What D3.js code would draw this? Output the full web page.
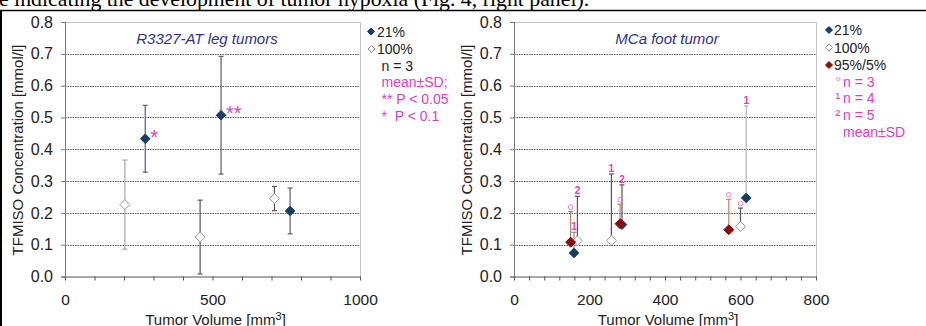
<!DOCTYPE html>
<html>
<head>
<meta charset="utf-8">
<script src="https://cdn.jsdelivr.net/npm/d3@7"></script>
<style>
  body { margin: 0; background: #fff; }
  svg { display: block; font-family: Arial, "Liberation Sans", sans-serif; }
</style>
</head>
<body>
<div class="figure"></div>
<script>
const svgSize = { width: 926, height: 326 };

// ---- data ----
const yTicks = [0, 0.1, 0.2, 0.3, 0.4, 0.5, 0.6, 0.7, 0.8];

// left panel: R3327-AT leg tumors, mean ± SD
const legVol21   = [272, 529, 763];
const legMean21  = [0.433, 0.507, 0.206];
const legSD21    = [0.105, 0.185, 0.072];
const legStars   = ['*', '**', ''];
const legVol100  = [203, 458, 710];
const legMean100 = [0.226, 0.124, 0.245];
const legSD100   = [0.140, 0.116, 0.038];

// right panel: MCa foot tumor, mean + SD (upper bar only)
const footVol21   = [159, 286, 615];
const footMean21  = [0.074, 0.163, 0.247];
const footSD21    = [0.065, 0.125, 0.289];
const footN21     = [4, 5, 4];
const footVol100  = [168, 258, 600];
const footMean100 = [0.112, 0.113, 0.157];
const footSD100   = [0.140, 0.209, 0.058];
const footN100    = [5, 4, 3];
const footVol95   = [150, 281, 569];
const footMean95  = [0.108, 0.166, 0.147];
const footSD95    = [0.096, 0.061, 0.096];
const footN95     = [3, 3, 3];

const navy = '#143d6b';
const darkRed = '#8a0c0c';
const magenta = '#e23cc2';
const pink = '#ef7fd6';

const svg = d3.select('.figure')
    .append('svg')
    .attr('width', svgSize.width)
    .attr('height', svgSize.height)
;

// page text + table border cut off at the top (as in the source scan)
svg.append('text')
    .attr('x', -1)
    .attr('y', 6)
    .attr('font-family', '"Liberation Serif", "Times New Roman", serif')
    .attr('font-size', 21.8)
    .attr('fill', '#000')
    .text('e indicating the development of tumor hypoxia (Fig. 4, right panel).')
;
svg.append('line')
    .attr('x1', 0).attr('x2', svgSize.width)
    .attr('y1', 10.5).attr('y2', 10.5)
    .attr('stroke', '#000').attr('stroke-width', 1.5)
;
svg.append('line')
    .attr('x1', 1).attr('x2', 1)
    .attr('y1', 10).attr('y2', svgSize.height)
    .attr('stroke', '#000').attr('stroke-width', 2)
;

const diamond = (g, x, y, r, fill, stroke) => g.append('path')
    .attr('d', `M${x},${y - r}L${x + r},${y}L${x},${y + r}L${x - r},${y}Z`)
    .attr('fill', fill)
    .attr('stroke', stroke)
    .attr('stroke-width', 1)
;

const panel = (cfg) => {
    const g = svg.append('g');
    const x = d3.scaleLinear().domain([0, cfg.xMax]).range([cfg.left, cfg.right]);
    const y = d3.scaleLinear().domain([0, 0.8]).range([276.5, 22]);

    // grid
    g.selectAll('.grid')
        .data(yTicks.filter(v => v > 0 && v < 0.8))
        .enter()
        .append('line')
        .attr('x1', cfg.left).attr('x2', cfg.right)
        .attr('y1', d => Math.round(y(d)) + 0.5).attr('y2', d => Math.round(y(d)) + 0.5)
        .attr('stroke', '#555')
        .attr('stroke-dasharray', '1.5,1')
    ;
    // frame top/right
    g.append('path')
        .attr('d', `M${cfg.left},22.5H${cfg.right + 0.5}V276.5`)
        .attr('fill', 'none')
        .attr('stroke', '#c4c4c4')
    ;

    const yAxis = g.append('g')
        .attr('transform', `translate(${cfg.left},0)`)
        .call(d3.axisLeft(y).tickValues(yTicks).tickFormat(d3.format('.1f')).tickSize(4).tickPadding(8))
    ;
    yAxis.select('.domain').attr('stroke', '#777');
    yAxis.selectAll('.tick line').attr('stroke', '#777');
    yAxis.selectAll('text').attr('font-size', 16).attr('fill', '#222');

    const xAxis = g.append('g')
        .attr('transform', 'translate(0,276.5)')
        .call(d3.axisBottom(x).tickValues(d3.range(0, cfg.xMax + 1, cfg.minor)).tickFormat('').tickSize(4).tickSizeOuter(0))
    ;
    xAxis.select('.domain').attr('stroke', '#555');
    xAxis.selectAll('.tick line').attr('stroke', '#555');
    const xLabels = g.append('g')
        .attr('transform', 'translate(0,276.5)')
        .call(d3.axisBottom(x).tickValues(cfg.major).tickFormat(d3.format('d')).tickSize(0).tickPadding(17))
    ;
    xLabels.select('.domain').remove();
    xLabels.selectAll('text').attr('font-size', 15.5).attr('fill', '#222');

    g.append('text')
        .attr('x', (cfg.left + cfg.right) / 2 + 3)
        .attr('y', 324.5)
        .attr('text-anchor', 'middle')
        .attr('font-size', 15)
        .attr('fill', '#222')
        .html('Tumor Volume [mm<tspan font-size="11" dy="-5">3</tspan><tspan dy="5">]</tspan>')
    ;
    g.append('text')
        .attr('transform', `translate(${cfg.left - 47},150) rotate(-90)`)
        .attr('dy', '0.35em')
        .attr('text-anchor', 'middle')
        .attr('font-size', 15)
        .attr('fill', '#222')
        .text('TFMISO Concentration [mmol/l]')
    ;
    g.append('text')
        .attr('x', cfg.titleX)
        .attr('y', 44)
        .attr('text-anchor', 'middle')
        .attr('font-size', 15)
        .attr('font-style', 'italic')
        .attr('fill', '#2e3192')
        .text(cfg.title)
    ;
    return { g, x, y };
};

// ---- left panel ----
const L = panel({ left: 65, right: 360, xMax: 1000, minor: 100, major: [0, 500, 1000], title: 'R3327-AT leg tumors', titleX: 207 });

const errBar = (p, xv, m, sd, color, both) => {
    const cx = p.x(xv);
    const top = p.y(m + sd);
    const bot = both ? p.y(m - sd) : p.y(m);
    p.g.append('line').attr('x1', cx).attr('x2', cx).attr('y1', top).attr('y2', bot)
        .attr('stroke', color).attr('stroke-width', 1.2);
    p.g.append('line').attr('x1', cx - 2.5).attr('x2', cx + 2.5).attr('y1', top).attr('y2', top)
        .attr('stroke', color).attr('stroke-width', 1.2);
    if (both) {
        p.g.append('line').attr('x1', cx - 2.5).attr('x2', cx + 2.5).attr('y1', bot).attr('y2', bot)
            .attr('stroke', color).attr('stroke-width', 1.2);
    }
};

const legBar100 = ['#a8a8a8', '#555', '#555'];
legVol100.forEach((v, i) => errBar(L, v, legMean100[i], legSD100[i], legBar100[i], true));
legVol21.forEach((v, i) => errBar(L, v, legMean21[i], legSD21[i], '#5a5d78', true));
legVol100.forEach((v, i) => diamond(L.g, L.x(v), L.y(legMean100[i]), 5, '#fff', '#999'));
legVol21.forEach((v, i) => diamond(L.g, L.x(v), L.y(legMean21[i]), 4.8, navy, navy));
legVol21.forEach((v, i) => {
    L.g.append('text')
        .attr('x', L.x(v) + 5)
        .attr('y', L.y(legMean21[i]) + 5)
        .attr('font-size', 20)
        .attr('fill', magenta)
        .text(legStars[i])
    ;
});

// left legend
const legLegend = svg.append('g').attr('font-size', 14);
diamond(legLegend, 371, 31.5, 3.5, navy, navy);
legLegend.append('text').attr('x', 377).attr('y', 36.5).attr('fill', '#222').text('21%');
diamond(legLegend, 371.5, 49, 3.5, '#fff', '#888');
legLegend.append('text').attr('x', 377).attr('y', 54).attr('fill', '#222').text('100%');
legLegend.append('text').attr('x', 381.5).attr('y', 71).attr('fill', '#222').text('n = 3');
legLegend.append('text').attr('x', 381.5).attr('y', 87).attr('fill', magenta).text('mean±SD;');
legLegend.append('text').attr('x', 381.5).attr('y', 103.5).attr('fill', magenta).attr('xml:space', 'preserve').text('** P < 0.05');
legLegend.append('text').attr('x', 381.5).attr('y', 121).attr('fill', magenta).attr('xml:space', 'preserve').text('*  P < 0.1');

// ---- right panel ----
const R = panel({ left: 514, right: 816, xMax: 800, minor: 40, major: [0, 200, 400, 600, 800], title: 'MCa foot tumor', titleX: 667 });

const nMark = (p, xv, top, n) => {
    const cx = p.x(xv);
    const ty = p.y(top);
    if (n === 3) {
        p.g.append('circle').attr('cx', cx).attr('cy', ty - 4.5).attr('r', 2.3)
            .attr('fill', 'none').attr('stroke', pink).attr('stroke-width', 1);
    } else {
        p.g.append('text').attr('x', cx).attr('y', ty - 2).attr('text-anchor', 'middle')
            .attr('font-size', 10).attr('font-weight', 'bold').attr('fill', magenta)
            .text(n === 4 ? '1' : '2');
    }
};

const footBar21 = ['#8a8a8a', '#555', '#b4b4b4'];
footVol100.forEach((v, i) => errBar(R, v, footMean100[i], footSD100[i], '#555', false));
footVol21.forEach((v, i) => errBar(R, v, footMean21[i], footSD21[i], footBar21[i], false));
footVol95.forEach((v, i) => errBar(R, v, footMean95[i], footSD95[i], '#b98468', false));
footVol100.forEach((v, i) => nMark(R, v, footMean100[i] + footSD100[i], footN100[i]));
footVol21.forEach((v, i) => nMark(R, v, footMean21[i] + footSD21[i], footN21[i]));
footVol95.forEach((v, i) => nMark(R, v, footMean95[i] + footSD95[i], footN95[i]));
footVol100.forEach((v, i) => diamond(R.g, R.x(v), R.y(footMean100[i]), 5, '#fff', '#999'));
footVol21.forEach((v, i) => diamond(R.g, R.x(v), R.y(footMean21[i]), 4.8, navy, navy));
footVol95.forEach((v, i) => diamond(R.g, R.x(v), R.y(footMean95[i]), 5, darkRed, darkRed));

// right legend
const footLegend = svg.append('g').attr('font-size', 14);
diamond(footLegend, 829, 30, 3.5, navy, navy);
footLegend.append('text').attr('x', 834).attr('y', 35).attr('fill', '#222').text('21%');
diamond(footLegend, 829, 47.5, 3.5, '#fff', '#888');
footLegend.append('text').attr('x', 834).attr('y', 52.5).attr('fill', '#222').text('100%');
diamond(footLegend, 829, 65, 3.5, darkRed, darkRed);
footLegend.append('text').attr('x', 834).attr('y', 70).attr('fill', '#222').text('95%/5%');
footLegend.append('text').attr('x', 835.5).attr('y', 86.5).attr('fill', pink).text('°');
footLegend.append('text').attr('x', 843).attr('y', 86.5).attr('fill', magenta).text('n = 3');
footLegend.append('text').attr('x', 835.5).attr('y', 103).attr('fill', magenta).text('¹');
footLegend.append('text').attr('x', 843).attr('y', 103).attr('fill', magenta).text('n = 4');
footLegend.append('text').attr('x', 835.5).attr('y', 120).attr('fill', magenta).text('²');
footLegend.append('text').attr('x', 843).attr('y', 120).attr('fill', magenta).text('n = 5');
footLegend.append('text').attr('x', 843).attr('y', 136.5).attr('fill', magenta).text('mean±SD');
</script>
</body>
</html>
